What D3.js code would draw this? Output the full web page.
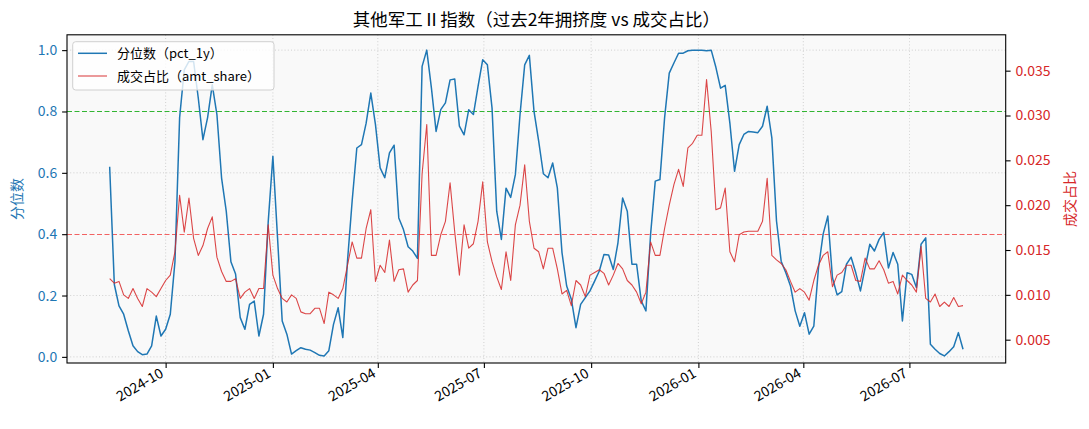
<!DOCTYPE html>
<html><head><meta charset="utf-8">
<script src="https://cdn.jsdelivr.net/npm/d3@7"></script>
<style>
body{margin:0;background:#fff;}
svg text{font-family:"Noto Sans CJK SC","Noto Sans",sans-serif;}
</style>
</head><body>
<svg id="chart" width="1089" height="429"></svg>
<script>
const titleText = "其他军工Ⅱ指数（过去2年拥挤度 vs 成交占比）";
const leftLabel = "分位数";
const rightLabel = "成交占比";
const seriesNames = ["分位数（pct_1y）", "成交占比（amt_share）"];

const dates = [
"2024-08-14","2024-08-18","2024-08-22","2024-08-26","2024-08-30",
"2024-09-03","2024-09-07","2024-09-11","2024-09-15","2024-09-19","2024-09-23","2024-09-27",
"2024-10-01","2024-10-05","2024-10-09","2024-10-13","2024-10-17","2024-10-21","2024-10-25","2024-10-29",
"2024-11-02","2024-11-06","2024-11-10","2024-11-14","2024-11-18","2024-11-22","2024-11-26","2024-11-30",
"2024-12-04","2024-12-08","2024-12-12","2024-12-16","2024-12-20","2024-12-24","2024-12-28",
"2025-01-01","2025-01-05","2025-01-09","2025-01-13","2025-01-17","2025-01-21","2025-01-25","2025-01-29",
"2025-02-02","2025-02-06","2025-02-10","2025-02-14","2025-02-18","2025-02-22","2025-02-26",
"2025-03-02","2025-03-06","2025-03-10","2025-03-14","2025-03-18","2025-03-22","2025-03-26","2025-03-30",
"2025-04-03","2025-04-07","2025-04-11","2025-04-15","2025-04-19","2025-04-23","2025-04-27",
"2025-05-01","2025-05-05","2025-05-09","2025-05-13","2025-05-17","2025-05-21","2025-05-25","2025-05-29",
"2025-06-02","2025-06-06","2025-06-10","2025-06-14","2025-06-18","2025-06-22","2025-06-26","2025-06-30",
"2025-07-04","2025-07-08","2025-07-12","2025-07-16","2025-07-20","2025-07-24","2025-07-28",
"2025-08-01","2025-08-05","2025-08-09","2025-08-13","2025-08-17","2025-08-21","2025-08-25","2025-08-29",
"2025-09-02","2025-09-06","2025-09-10","2025-09-14","2025-09-18","2025-09-22","2025-09-26","2025-09-30",
"2025-10-04","2025-10-08","2025-10-12","2025-10-16","2025-10-20","2025-10-24","2025-10-28",
"2025-11-01","2025-11-05","2025-11-09","2025-11-13","2025-11-17","2025-11-21","2025-11-25","2025-11-29",
"2025-12-03","2025-12-07","2025-12-11","2025-12-15","2025-12-19","2025-12-23","2025-12-27","2025-12-31",
"2026-01-04","2026-01-08","2026-01-12","2026-01-16","2026-01-20","2026-01-24","2026-01-28",
"2026-02-01","2026-02-05","2026-02-09","2026-02-13","2026-02-17","2026-02-21","2026-02-25",
"2026-03-01","2026-03-05","2026-03-09","2026-03-13","2026-03-17","2026-03-21","2026-03-25","2026-03-29",
"2026-04-02","2026-04-06","2026-04-10","2026-04-14","2026-04-18","2026-04-22","2026-04-26","2026-04-30",
"2026-05-04","2026-05-08","2026-05-12","2026-05-16","2026-05-20","2026-05-24","2026-05-28",
"2026-06-01","2026-06-05","2026-06-09","2026-06-13","2026-06-17","2026-06-21","2026-06-25","2026-06-29",
"2026-07-03","2026-07-07","2026-07-11","2026-07-15","2026-07-19","2026-07-23","2026-07-27","2026-07-31",
"2026-08-04","2026-08-08","2026-08-12","2026-08-16"];

const pct = [
0.62,0.236,0.166,0.139,0.085,0.036,0.017,0.007,0.009,0.036,
0.133,0.068,0.09,0.139,0.31,0.78,0.936,0.963,0.963,0.844,
0.708,0.78,0.887,0.79,0.583,0.475,0.31,0.27,0.128,0.09,
0.171,0.182,0.068,0.139,0.44,0.654,0.388,0.117,0.074,0.009,
0.02,0.03,0.025,0.022,0.014,0.005,0.003,0.02,0.106,0.16,
0.063,0.312,0.508,0.681,0.692,0.762,0.86,0.757,0.616,0.584,
0.665,0.69,0.453,0.415,0.359,0.345,0.321,0.947,1.0,0.876,
0.735,0.806,0.828,0.903,0.906,0.752,0.724,0.806,0.79,0.882,
0.969,0.952,0.811,0.475,0.383,0.55,0.52,0.594,0.79,0.952,
0.983,0.80,0.703,0.597,0.584,0.632,0.551,0.34,0.231,0.188,
0.095,0.171,0.193,0.215,0.247,0.28,0.334,0.332,0.285,0.372,
0.518,0.475,0.302,0.302,0.182,0.15,0.40,0.573,0.578,0.779,
0.925,0.958,0.99,0.99,0.998,1.0,1.0,1.0,0.998,1.0,
0.944,0.876,0.885,0.762,0.605,0.692,0.725,0.735,0.733,0.731,
0.752,0.817,0.714,0.443,0.312,0.274,0.231,0.15,0.10,0.144,
0.074,0.10,0.29,0.40,0.459,0.258,0.202,0.213,0.302,0.325,
0.274,0.215,0.29,0.367,0.345,0.383,0.405,0.29,0.34,0.302,
0.117,0.274,0.269,0.226,0.367,0.388,0.041,0.025,0.011,0.003,
0.017,0.033,0.079,0.025];

const amt = [
0.0118,0.0113,0.0115,0.0100,0.0096,0.0107,0.0096,0.0087,0.0107,0.0103,
0.0098,0.0107,0.0116,0.0122,0.0148,0.0211,0.0170,0.0208,0.0163,0.0144,
0.0155,0.0174,0.0187,0.0142,0.0126,0.0115,0.0115,0.0118,0.0096,0.0103,
0.0107,0.0096,0.0107,0.0107,0.0178,0.0122,0.0107,0.0096,0.0092,0.0100,
0.0096,0.0081,0.0079,0.0079,0.0085,0.0085,0.0068,0.0103,0.0100,0.0096,
0.0107,0.0133,0.0159,0.0141,0.0141,0.0174,0.0195,0.0115,0.0133,0.0125,
0.0161,0.0115,0.0128,0.0129,0.0103,0.0111,0.0116,0.0235,0.0290,0.0144,
0.0144,0.0167,0.0182,0.0225,0.0170,0.0122,0.0178,0.0152,0.0157,0.0182,
0.0226,0.0159,0.0137,0.0120,0.0106,0.0148,0.0116,0.0178,0.0200,0.0245,
0.0182,0.0152,0.0148,0.0129,0.0152,0.0152,0.0129,0.0101,0.0105,0.0088,
0.0116,0.0111,0.0098,0.0122,0.0125,0.0128,0.0124,0.0111,0.0122,0.0135,
0.0129,0.0116,0.0111,0.0103,0.0090,0.0103,0.0159,0.0144,0.0144,0.0174,
0.0200,0.0223,0.0240,0.0221,0.0264,0.0269,0.0278,0.0278,0.0340,0.0282,
0.0195,0.0197,0.0219,0.0148,0.0137,0.0167,0.0170,0.0171,0.0171,0.0171,
0.0182,0.0230,0.0144,0.0139,0.0135,0.0128,0.0115,0.0103,0.0107,0.0103,
0.0094,0.0116,0.0133,0.0144,0.0148,0.0109,0.0122,0.0125,0.0133,0.0133,
0.0116,0.0115,0.0141,0.0129,0.0129,0.0138,0.0128,0.0113,0.0115,0.0101,
0.0122,0.0116,0.0111,0.0103,0.0154,0.0096,0.0092,0.0101,0.0087,0.0092,
0.0087,0.0097,0.0087,0.0088];

const xTickLabels = ["2024-10","2025-01","2025-04","2025-07","2025-10","2026-01","2026-04","2026-07"];
const leftTicks = [0.0,0.2,0.4,0.6,0.8,1.0];
const rightTicks = [0.005,0.010,0.015,0.020,0.025,0.030,0.035];
const refLines = [0.8, 0.4];
const leftDomain = [-0.02, 1.05];
const rightDomain = [0.0024, 0.0390];

// layout
const M = {left: 67, right: 1005.7, top: 34.8, bottom: 363};
const C = {blue: "#1f77b4", red: "#d62728", green: "#2ca02c"};

const parse = d3.timeParse("%Y-%m-%d");
const parseM = d3.timeParse("%Y-%m");
const data = dates.map((d, i) => ({date: parse(d), p: pct[i], a: amt[i]}));

const ext = d3.extent(data, d => d.date);
const span = ext[1] - ext[0];
const x = d3.scaleTime()
  .domain([new Date(+ext[0] - span * 0.05), new Date(+ext[1] + span * 0.05)])
  .range([M.left, M.right]);
const yL = d3.scaleLinear().domain(leftDomain).range([M.bottom, M.top]);
const yR = d3.scaleLinear().domain(rightDomain).range([M.bottom, M.top]);

const svg = d3.select("#chart");
const W = M.right - M.left, H = M.bottom - M.top;

svg.append("defs").append("clipPath").attr("id", "clip")
  .append("rect").attr("x", M.left).attr("y", M.top).attr("width", W).attr("height", H);

svg.append("rect").attr("x", M.left).attr("y", M.top).attr("width", W).attr("height", H)
  .attr("fill", "#f9f9f9");

const xTicks = xTickLabels.map(s => parseM(s));

// grid
const grid = svg.append("g");
grid.selectAll(".gx").data(xTicks).join("line")
  .attr("x1", d => x(d)).attr("x2", d => x(d)).attr("y1", M.top).attr("y2", M.bottom)
  .attr("stroke", "#bbbbbb").attr("stroke-width", 0.8).attr("stroke-dasharray", "1,2.2").attr("opacity", 0.8);
grid.selectAll(".gy").data(leftTicks.filter(v => !refLines.includes(v))).join("line")
  .attr("x1", M.left).attr("x2", M.right).attr("y1", d => yL(d)).attr("y2", d => yL(d))
  .attr("stroke", "#bbbbbb").attr("stroke-width", 0.8).attr("stroke-dasharray", "1,2.2").attr("opacity", 0.8);

// reference lines (pixel-snapped)
const snap = v => Math.round(v) + 0.5;
svg.append("line").attr("x1", M.left).attr("x2", M.right)
  .attr("y1", snap(yL(refLines[0]))).attr("y2", snap(yL(refLines[0])))
  .style("stroke", "#33b533").style("stroke-width", "1.2px").style("stroke-dasharray", "5,2.5");
svg.append("line").attr("x1", M.left).attr("x2", M.right)
  .attr("y1", snap(yL(refLines[1]))).attr("y2", snap(yL(refLines[1])))
  .style("stroke", "#f26262").style("stroke-width", "1.1px").style("stroke-dasharray", "5,2.5");

const plotG = svg.append("g").attr("clip-path", "url(#clip)");
plotG.append("path").datum(data)
  .attr("fill", "none").attr("stroke", C.blue).attr("stroke-width", 1.5).attr("stroke-linejoin", "round")
  .attr("d", d3.line().x(d => x(d.date)).y(d => yL(d.p)));
plotG.append("path").datum(data)
  .attr("fill", "none").attr("stroke", C.red).attr("stroke-width", 1.1).attr("stroke-linejoin", "round")
  .attr("opacity", 0.85)
  .attr("d", d3.line().x(d => x(d.date)).y(d => yR(d.a)));

// axes
const fs = 14;
const axB = svg.append("g").attr("transform", `translate(0,${M.bottom})`)
  .call(d3.axisBottom(x).tickValues(xTicks).tickFormat(d3.timeFormat("%Y-%m")).tickSize(4.9).tickPadding(0).tickSizeOuter(0));
axB.selectAll("text").attr("font-size", fs).attr("fill", "#000")
  .attr("text-anchor", "end").attr("dy", null).attr("y", null)
  .attr("transform", "translate(-1.6,13) rotate(-30)");

const axL = svg.append("g").attr("transform", `translate(${M.left},0)`)
  .call(d3.axisLeft(yL).tickValues(leftTicks).tickFormat(d3.format(".1f")).tickSize(4.9).tickPadding(4.9).tickSizeOuter(0));
axL.selectAll("text").attr("font-size", fs).attr("fill", C.blue);

const axR = svg.append("g").attr("transform", `translate(${M.right},0)`)
  .call(d3.axisRight(yR).tickValues(rightTicks).tickFormat(d3.format(".3f")).tickSize(4.9).tickPadding(4.9).tickSizeOuter(0));
axR.selectAll("text").attr("font-size", fs).attr("fill", C.red);

[axB, axL, axR].forEach(a => {
  a.select(".domain").remove();
  a.selectAll(".tick line").attr("stroke", "#000").attr("stroke-width", 1.1);
});

// frame
svg.append("rect").attr("x", M.left).attr("y", M.top).attr("width", W).attr("height", H)
  .attr("fill", "none").attr("stroke", "#000").attr("stroke-width", 1.1);

// titles
svg.append("text").attr("x", (M.left + M.right) / 2).attr("y", 26)
  .attr("text-anchor", "middle").attr("font-size", 17.5).attr("fill", "#000").text(titleText);
svg.append("text").attr("transform", `translate(22,${(M.top + M.bottom) / 2}) rotate(-90)`)
  .attr("text-anchor", "middle").attr("font-size", fs).attr("fill", C.blue).text(leftLabel);
svg.append("text").attr("transform", `translate(1075,${(M.top + M.bottom) / 2}) rotate(-90)`)
  .attr("text-anchor", "middle").attr("font-size", fs).attr("fill", C.red).text(rightLabel);

// legend
const lg = svg.append("g");
lg.append("rect").attr("x", 72.7).attr("y", 41.7).attr("width", 201.3).attr("height", 48.3)
  .attr("rx", 3).attr("fill", "#ffffff").attr("fill-opacity", 0.8).attr("stroke", "#d0d0d0").attr("stroke-width", 1);
const items = [
  {name: seriesNames[0], color: C.blue, w: 1.5, op: 1, y: 53.3},
  {name: seriesNames[1], color: C.red, w: 1.1, op: 0.85, y: 76}
];
items.forEach(it => {
  lg.append("line").attr("x1", 78).attr("x2", 107).attr("y1", it.y).attr("y2", it.y)
    .attr("stroke", it.color).attr("stroke-width", it.w).attr("opacity", it.op);
  lg.append("text").attr("x", 117).attr("y", it.y).attr("dy", "0.35em")
    .attr("font-size", 13).attr("fill", "#000").text(it.name);
});
</script>
</body></html>
